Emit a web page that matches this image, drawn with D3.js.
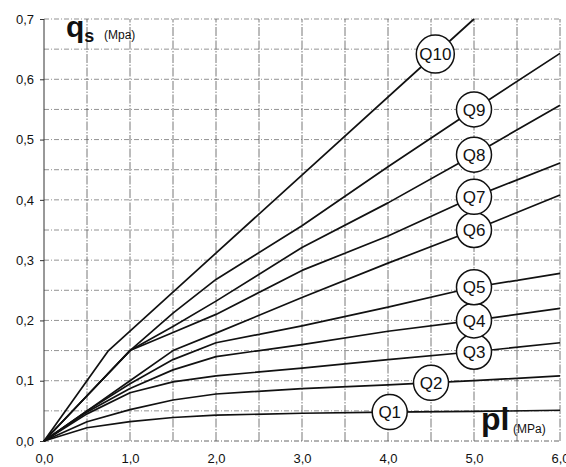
<!DOCTYPE html>
<html><head><meta charset="utf-8">
<script src="https://cdn.jsdelivr.net/npm/d3@7"></script>
<style>
html,body{margin:0;padding:0;background:#fff;}
svg{display:block;font-family:"Liberation Sans",Arial,sans-serif;}
</style></head>
<body>
<svg id="chart" width="566" height="467"></svg>
<script>
// pl values (MPa) used as breakpoints
const plQ10 = [0, 0.75, 5.0];
const qsQ10 = [0, 0.15, 0.70];
const plStd = [0, 0.5, 1.0, 1.5, 2.0, 3.0, 4.0, 5.0, 6.0];
const qsQ9 = [0, 0.075, 0.150, 0.212, 0.268, 0.357, 0.455, 0.550, 0.643];
const qsQ8 = [0, 0.075, 0.150, 0.190, 0.232, 0.321, 0.395, 0.475, 0.557];
const qsQ7 = [0, 0.075, 0.150, 0.180, 0.210, 0.283, 0.340, 0.405, 0.461];
const qsQ6 = [0, 0.050, 0.100, 0.150, 0.179, 0.238, 0.295, 0.350, 0.408];
const qsQ5 = [0, 0.050, 0.095, 0.135, 0.163, 0.191, 0.222, 0.255, 0.278];
const qsQ4 = [0, 0.048, 0.087, 0.118, 0.140, 0.160, 0.182, 0.200, 0.220];
const qsQ3 = [0, 0.045, 0.080, 0.098, 0.108, 0.121, 0.135, 0.148, 0.163];
const qsQ2 = [0, 0.032, 0.052, 0.068, 0.078, 0.087, 0.093, 0.100, 0.108];
const qsQ1 = [0, 0.022, 0.032, 0.039, 0.043, 0.046, 0.048, 0.049, 0.051];
const curveNames = ["Q1","Q2","Q3","Q4","Q5","Q6","Q7","Q8","Q9","Q10"];
const labelPl = [4.02, 4.5, 5.0, 5.0, 5.0, 5.0, 5.0, 5.0, 5.0, 4.55];
const xTicks = [0,1,2,3,4,5,6];
const yTicks = [0,0.1,0.2,0.3,0.4,0.5,0.6,0.7];

const curves = [
  {pl: plStd, qs: qsQ1}, {pl: plStd, qs: qsQ2}, {pl: plStd, qs: qsQ3},
  {pl: plStd, qs: qsQ4}, {pl: plStd, qs: qsQ5}, {pl: plStd, qs: qsQ6},
  {pl: plStd, qs: qsQ7}, {pl: plStd, qs: qsQ8}, {pl: plStd, qs: qsQ9},
  {pl: plQ10, qs: qsQ10}
].map((c,i)=>({name: curveNames[i], pts: c.pl.map((p,j)=>[p, c.qs[j]]), lp: labelPl[i]}));

const svg = d3.select("#chart");
const x = d3.scaleLinear().domain([0,6]).range([44,560]);
const y = d3.scaleLinear().domain([0,0.7]).range([441,19]);

const comma = d => d3.format(".1f")(d).replace(".", ",");

// grid
const g = svg.append("g");
g.selectAll("line.h").data(d3.range(1,15).map(i=>i*0.05)).join("line")
  .attr("x1", x(0)).attr("x2", x(6)).attr("y1", d=>y(d)).attr("y2", d=>y(d))
  .attr("stroke", "#777").attr("stroke-width", 0.8).attr("stroke-dasharray", "5,2,1,2");
g.selectAll("line.v").data(d3.range(1,13).map(i=>i*0.5)).join("line")
  .attr("y1", y(0)).attr("y2", y(0.7)).attr("x1", d=>x(d)).attr("x2", d=>x(d))
  .attr("stroke", "#555").attr("stroke-width", 0.8).attr("stroke-dasharray", "9,1.5,1.5,1.5");
// bottom line
g.append("line").attr("x1", x(0)).attr("x2", x(6)).attr("y1", y(0)).attr("y2", y(0))
  .attr("stroke", "#555").attr("stroke-width", 0.9).attr("stroke-dasharray", "5,2,1,2");
// left axis line
g.append("line").attr("x1", x(0)).attr("x2", x(0)).attr("y1", y(0)).attr("y2", y(0.7))
  .attr("stroke", "#333").attr("stroke-width", 1);

// axes with D3
const yAxis = d3.axisLeft(y).tickValues(yTicks).tickFormat(comma).tickSize(4).tickPadding(6);
const ya = svg.append("g").attr("transform", `translate(${x(0)},0)`).call(yAxis);
ya.select(".domain").remove();
ya.selectAll("text").attr("font-size", 13).attr("fill", "#111").attr("font-family", "Liberation Sans, Arial, sans-serif");
ya.selectAll("line").attr("stroke", "#333");

const xAxis = d3.axisBottom(x).tickValues(xTicks).tickFormat(comma).tickSize(0).tickPadding(13);
const xa = svg.append("g").attr("transform", `translate(0,${y(0)})`).call(xAxis);
xa.select(".domain").remove();
xa.selectAll("text").attr("font-size", 13).attr("fill", "#111").attr("font-family", "Liberation Sans, Arial, sans-serif");

// curves
const line = d3.line().x(d=>x(d[0])).y(d=>y(d[1]));
svg.append("g").selectAll("path").data(curves).join("path")
  .attr("d", d=>line(d.pts)).attr("fill", "none").attr("stroke", "#111")
  .attr("stroke-width", 1.7).attr("stroke-linejoin", "round");

// labels
function interp(pts, p){
  for(let i=1;i<pts.length;i++){
    if(p<=pts[i][0]){const a=pts[i-1],b=pts[i];return a[1]+(b[1]-a[1])*(p-a[0])/(b[0]-a[0]);}
  }
  return pts[pts.length-1][1];
}
const lg = svg.append("g").selectAll("g").data(curves).join("g")
  .attr("transform", d=>`translate(${x(d.lp)},${y(interp(d.pts,d.lp))})`);
lg.append("circle").attr("r", d=>d.name==="Q10"?19:17.5).attr("fill","#fff")
  .attr("stroke","#111").attr("stroke-width",1.5);
lg.append("text").text(d=>d.name).attr("text-anchor","middle").attr("dy","0.36em")
  .attr("font-size",17).attr("fill","#111");

// axis titles
const t1 = svg.append("text").attr("x", 66).attr("y", 37).attr("fill","#111");
t1.append("tspan").text("q").attr("font-size", 30).attr("font-weight","bold");
t1.append("tspan").text("s").attr("font-size", 18).attr("font-weight","bold").attr("dy", 5);
svg.append("text").attr("x", 104).attr("y", 39).text("(Mpa)").attr("font-size", 12).attr("fill","#111");

svg.append("text").attr("x", 481).attr("y", 430).text("pl").attr("font-size", 32).attr("font-weight","bold").attr("fill","#111");
svg.append("text").attr("x", 513).attr("y", 433).text("(MPa)").attr("font-size", 12).attr("fill","#111");
</script>
</body></html>
